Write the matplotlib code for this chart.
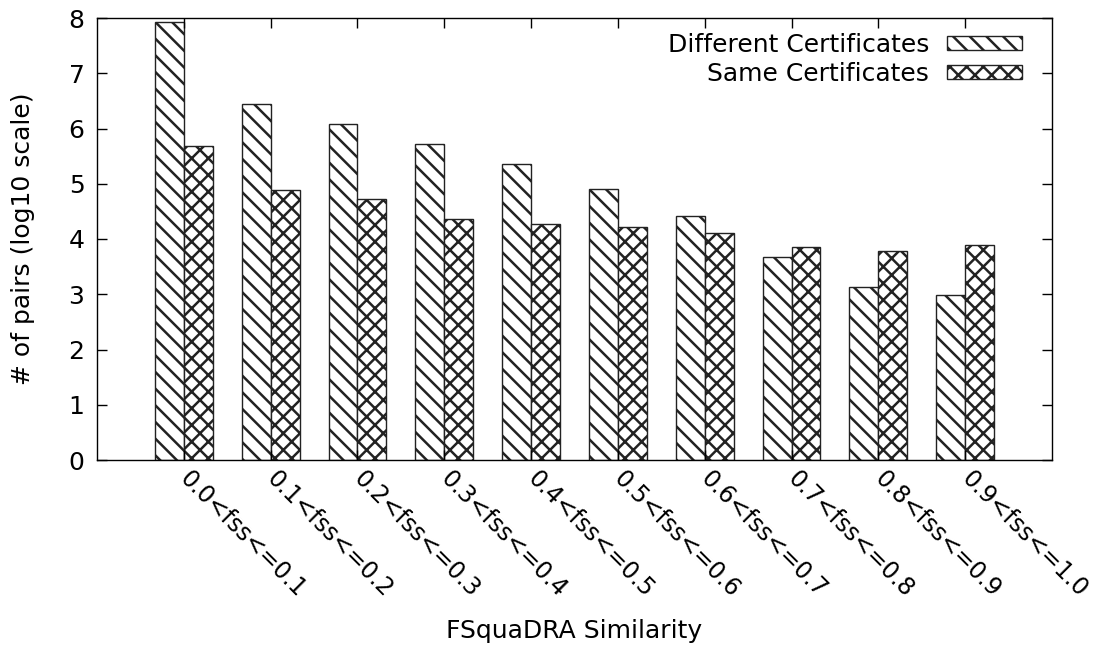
import matplotlib
matplotlib.use("Agg")
import matplotlib.pyplot as plt
import numpy as np

categories = ["0.0<fss<=0.1", "0.1<fss<=0.2", "0.2<fss<=0.3", "0.3<fss<=0.4",
              "0.4<fss<=0.5", "0.5<fss<=0.6", "0.6<fss<=0.7", "0.7<fss<=0.8",
              "0.8<fss<=0.9", "0.9<fss<=1.0"]
different_certs = [7.92, 6.44, 6.08, 5.72, 5.35, 4.91, 4.42, 3.67, 3.14, 2.99]
same_certs = [5.69, 4.88, 4.72, 4.37, 4.27, 4.22, 4.10, 3.86, 3.78, 3.90]
yticks = [0, 1, 2, 3, 4, 5, 6, 7, 8]

plt.rcParams['font.family'] = ['DejaVu Sans']
plt.rcParams['hatch.linewidth'] = 1.8
plt.rcParams['hatch.color'] = 'black'

FS = 18
fig = plt.figure(figsize=(10.98, 6.52), dpi=100)
ax = fig.add_axes([97/1098, 1-460/652, (1052-97)/1098, (460-18)/652])

x = np.arange(len(categories))
w = 1/3
ax.bar(x - w/2, different_certs, width=w, facecolor='white', edgecolor='#222222',
       linewidth=1.0, hatch='\\\\', label='Different Certificates')
ax.bar(x + w/2, same_certs, width=w, facecolor='white', edgecolor='#222222',
       linewidth=1.0, hatch='xx', label='Same Certificates')

ax.set_xlim(-1, 10)
ax.set_ylim(0, 8)
ax.set_yticks(yticks)
ax.set_xticks(x)
ax.set_xticklabels(categories, rotation=-45, ha='left', va='center',
                   rotation_mode='anchor', fontsize=17)
ax.tick_params(axis='both', direction='in', length=7.5, width=1,
               top=True, right=True)
ax.tick_params(axis='y', labelsize=FS, pad=9)
ax.tick_params(axis='x', pad=11)
for s in ax.spines.values():
    s.set_linewidth(1.0)

ax.set_ylabel('# of pairs (log10 scale)', fontsize=FS, labelpad=24)
ax.set_xlabel('FSquaDRA Similarity', fontsize=FS, labelpad=12)

leg = ax.legend(loc='upper right', frameon=False, markerfirst=False,
                fontsize=FS, handlelength=3.0, handleheight=0.5,
                handletextpad=0.7, labelspacing=0.2,
                bbox_to_anchor=(0.984, 1.0), borderaxespad=0.2)
for t in leg.get_texts():
    t.set_ha('right')

fig.savefig('out.png', dpi=100)
